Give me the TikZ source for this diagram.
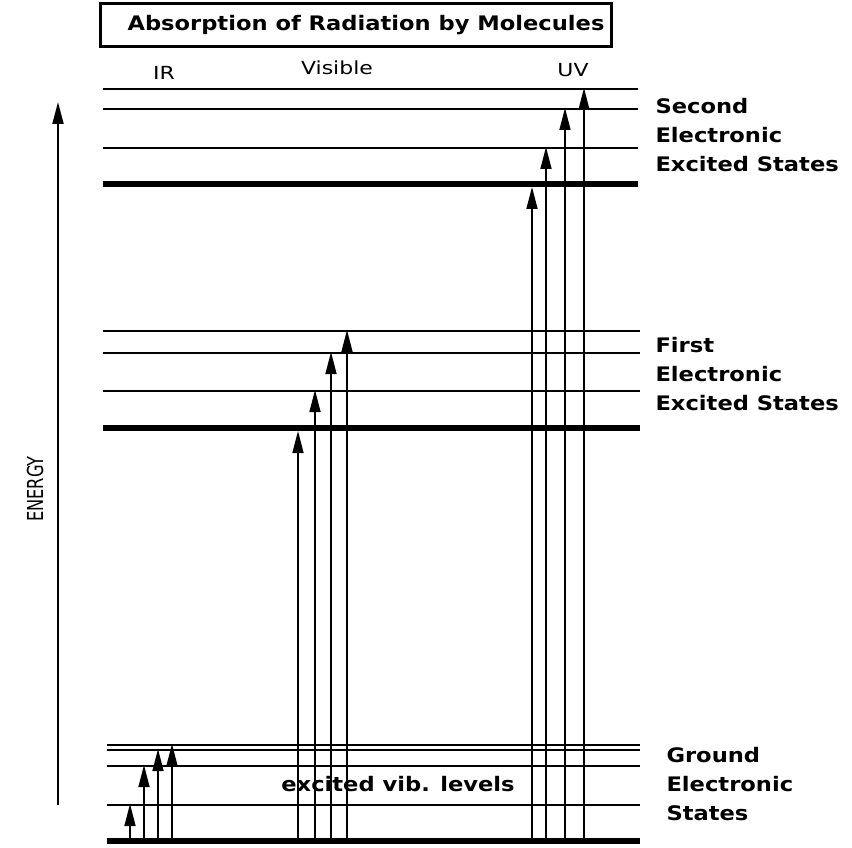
\documentclass[tikz,border=0pt]{standalone}
\usepackage{fontspec}
\setmainfont{DejaVu Sans}
\newfontfamily\boldwide[FakeStretch=1.13]{DejaVu Sans Bold}
\newfontfamily\plainwide[FakeStretch=1.22]{DejaVu Sans}
\newfontfamily\plainnarrow[FakeStretch=0.74]{DejaVu Sans}
\usetikzlibrary{arrows.meta}
\usetikzlibrary{calc}
\usetikzlibrary{positioning}

\begin{document}
\begin{tikzpicture}[x=1pt,y=-1pt,>={Triangle[width=11pt,length=22pt]},
		level/.style={line width=1.6pt},
		ground/.style={line width=6.5pt},
		jump/.style={->,line width=1.5pt,shorten >=-1pt},
		band/.style={font=\fontsize{18}{21}\plainwide},
		state/.style={font=\fontsize{20}{29}\boldwide,align=left,anchor=west}]
		\useasboundingbox (0,0) rectangle (852,848);
		
		% title
		\node[draw,line width=3pt,minimum width=511pt,minimum height=43pt] (title) at (356,25) {};
		\node[font=\fontsize{20}{23}\boldwide] (titletext) at (366,25) {Absorption of Radiation by Molecules};
		\node[band] (ir)  at (164,73) {IR};
		\node[band] (vis) at (337,68) {Visible};
		\node[band] (uv)  at (573,70) {UV};
		
		% levels: left ends
		\coordinate (s0) at (103,184); \coordinate (s1) at (103,148);
		\coordinate (s2) at (103,109); \coordinate (s3) at (103,89);
		\coordinate (f0) at (103,428); \coordinate (f1) at (103,391);
		\coordinate (f2) at (103,353); \coordinate (f3) at (103,331);
		\coordinate (g0) at (107,841); \coordinate (g1) at (107,805);
		\coordinate (g2) at (107,766); \coordinate (g3) at (107,750);
		\coordinate (g4) at (107,745);
		\coordinate (right) at (638,0);
		
		\foreach \l in {s1,s2,s3} \draw[level] (\l) -- (\l -| right);
		\foreach \l in {f1,f2,f3,g1,g2,g3,g4} \draw[level] (\l) -- ($(\l -| right)+(2,0)$);
		\draw[ground] (s0) -- (s0 -| right);
		\draw[ground] (f0) -- ($(f0 -| right)+(2,0)$);
		\draw[ground] (g0) -- ($(g0 -| right)+(2,0)$);
		
		% transitions
		\coordinate (i1) at (130,0); \coordinate (i2) at (144,0);
		\coordinate (i3) at (158,0); \coordinate (i4) at (172,0);
		\coordinate (v1) at (298,0); \coordinate (v2) at (315,0);
		\coordinate (v3) at (331,0); \coordinate (v4) at (347,0);
		\coordinate (u1) at (532,0); \coordinate (u2) at (546,0);
		\coordinate (u3) at (565,0); \coordinate (u4) at (584,0);
		
		\path[jump]
		(g0 -| i1) edge (g1 -| i1)
		(g0 -| i2) edge (g2 -| i2)
		(g0 -| i3) edge (g3 -| i3)
		(g0 -| i4) edge (g4 -| i4)
		(g0 -| v1) edge ($(f0 -| v1)+(0,4)$)
		(g0 -| v2) edge (f1 -| v2)
		(g0 -| v3) edge (f2 -| v3)
		(g0 -| v4) edge (f3 -| v4)
		(g0 -| u1) edge ($(s0 -| u1)+(0,4)$)
		(g0 -| u2) edge (s1 -| u2)
		(g0 -| u3) edge (s2 -| u3)
		(g0 -| u4) edge (s3 -| u4);
		
		% energy axis
		\coordinate (e0) at (58,805);
		\coordinate (e1) at (58,102);
		\draw[->,line width=2pt] (e0) -- (e1);
		\node[font=\fontsize{22}{25}\plainnarrow,rotate=90] (energy) at (35,489) {ENERGY};
		
		% state labels
		\node[state] (second) at (652,135) {Second\\Electronic\\Excited States};
		\node[state] (first)  at (652,374) {First\\Electronic\\Excited States};
		\node[state] (groundlbl) at (663,784) {Ground\\Electronic\\States};
		\node[font=\fontsize{20}{23}\boldwide] (vib) at (398,784) {excited vib. levels};
\end{tikzpicture}
\end{document}
